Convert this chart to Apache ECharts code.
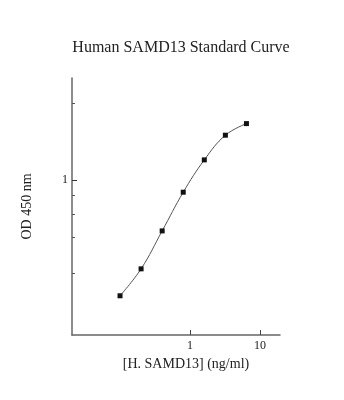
<!DOCTYPE html>
<html>
<head>
<meta charset="utf-8">
<script src="https://cdn.jsdelivr.net/npm/echarts@6/dist/echarts.min.js"></script>
<style>html,body{margin:0;padding:0;background:#fff}#c{width:344px;height:400px}</style>
</head>
<body>
<div id="c"></div>
<script>
var concentrations = [0.1, 0.2, 0.4, 0.8, 1.6, 3.2, 6.4];
var odValues = [0.179, 0.267, 0.469, 0.833, 1.346, 1.942, 2.307];
var xTickLabels = [1, 10];
var yTickLabels = [1];
var yMinorTicks = [3.1, 0.8, 0.6, 0.43, 0.25];

var chart = echarts.init(document.getElementById('c'), null, {renderer: 'canvas'});
var serif = '"Liberation Serif", "DejaVu Serif", serif';
chart.setOption({
  animation: false,
  backgroundColor: '#fff',
  title: {
    text: 'Human SAMD13 Standard Curve',
    left: 176, top: 35, textAlign: 'center',
    textStyle: {fontFamily: serif, fontSize: 16, fontWeight: 'normal', color: '#222'}
  },
  grid: {left: 72, right: 64, top: 78, bottom: 65, containLabel: false},
  xAxis: {
    type: 'log', logBase: 10, min: 0.0206, max: 19.3,
    name: '[H. SAMD13] (ng/ml)', nameLocation: 'middle', nameGap: 21,
    nameTextStyle: {fontFamily: serif, fontSize: 14, color: '#222', padding: [0, 0, 0, 20]},
    axisLine: {lineStyle: {color: '#666', width: 1.5}},
    axisTick: {inside: true, length: 5, customValues: xTickLabels, lineStyle: {color: '#444'}},
    axisLabel: {customValues: xTickLabels, fontFamily: serif, fontSize: 12, color: '#222', margin: 5,
      formatter: function (v) { return String(Math.round(v)); }},
    splitLine: {show: false}
  },
  yAxis: [{
    type: 'log', logBase: 10, min: 0.1, max: 4.54,
    name: 'OD 450 nm', nameLocation: 'middle', nameGap: 38, nameRotate: 90,
    nameTextStyle: {fontFamily: serif, fontSize: 14, color: '#222'},
    axisLine: {show: true, lineStyle: {color: '#666', width: 1.5}},
    axisTick: {inside: true, length: 3, customValues: yMinorTicks, lineStyle: {color: '#555'}},
    axisLabel: {customValues: yTickLabels, fontFamily: serif, fontSize: 12, color: '#222', margin: 4,
      formatter: function (v) { return String(Math.round(v)); }},
    splitLine: {show: false}
  }, {
    type: 'log', logBase: 10, min: 0.1, max: 4.54, position: 'left',
    axisLine: {show: false},
    axisTick: {inside: true, length: 5, customValues: yTickLabels, lineStyle: {color: '#333'}},
    axisLabel: {show: false},
    splitLine: {show: false}
  }],
  series: [{
    type: 'line',
    data: concentrations.map(function (c, i) { return [c, odValues[i]]; }),
    smooth: 0.4,
    symbol: 'rect', symbolSize: 5,
    lineStyle: {color: '#555', width: 1},
    itemStyle: {color: '#111'}
  }]
});
</script>
</body>
</html>
